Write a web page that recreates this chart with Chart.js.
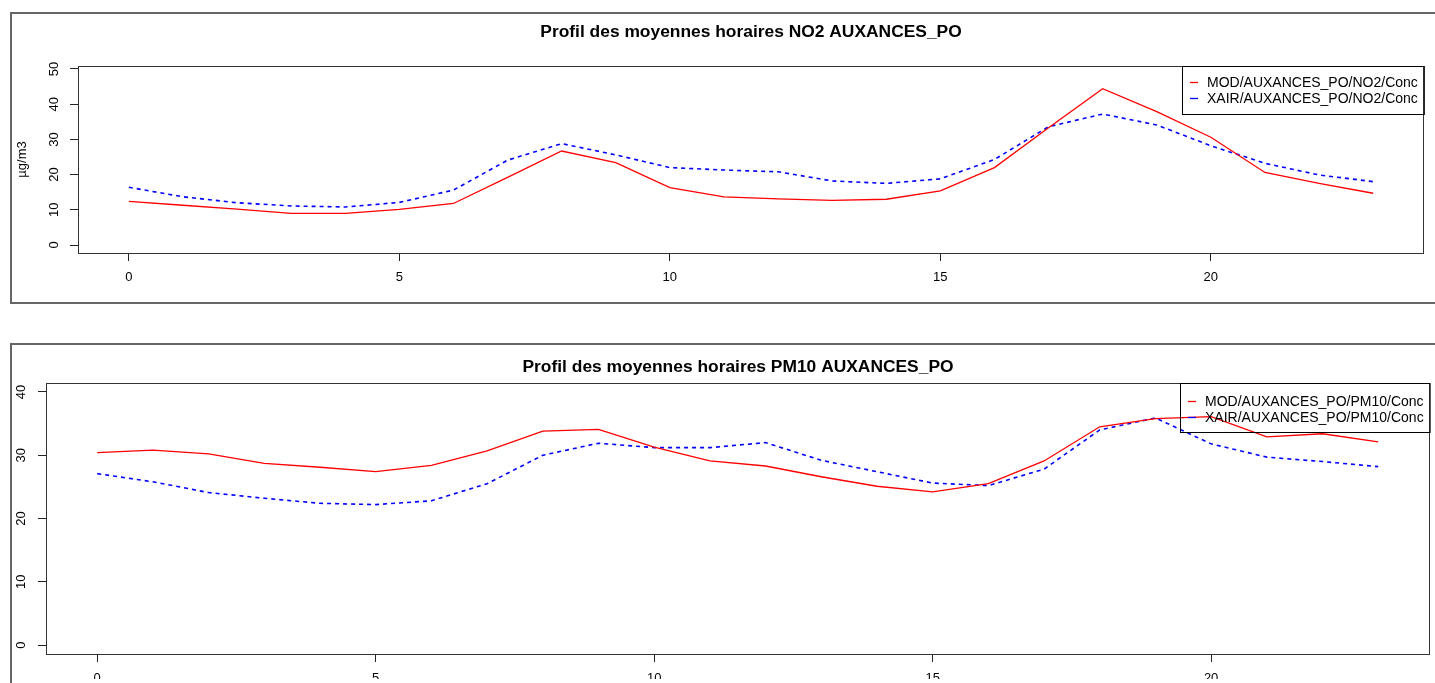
<!DOCTYPE html>
<html>
<head>
<meta charset="utf-8">
<script src="https://cdn.jsdelivr.net/npm/chart.js@4.4.1/dist/chart.umd.min.js"></script>
<style>
  html, body { margin: 0; padding: 0; background: #fff; }
  body { width: 1435px; height: 683px; position: relative; overflow: hidden; }
  .frame { position: absolute; border: 2px solid #666; box-sizing: border-box; }
  canvas { position: absolute; left: 0; }
</style>
</head>
<body>
<div class="frame" style="left:10px; top:12px; width:1440px; height:292px;"></div>
<div class="frame" style="left:10px; top:343px; width:1440px; height:400px;"></div>
<canvas id="c1" width="1435" height="330" style="top:0px;"></canvas>
<canvas id="c2" width="1435" height="353" style="top:330px;"></canvas>
<script>
// ---- data ----
const hours = [0,1,2,3,4,5,6,7,8,9,10,11,12,13,14,15,16,17,18,19,20,21,22,23];
const xTicks = [0, 5, 10, 15, 20];

const no2Title = "Profil des moyennes horaires NO2 AUXANCES_PO";
const no2Labels = ["MOD/AUXANCES_PO/NO2/Conc", "XAIR/AUXANCES_PO/NO2/Conc"];
const no2Ticks = [0, 10, 20, 30, 40, 50];
const no2Mod  = [12.4, 11.3, 10.2, 9.0, 9.0, 10.1, 11.8, 19.2, 26.7, 23.4, 16.3, 13.7, 13.1, 12.7, 13.0, 15.4, 22.0, 33.3, 44.4, 37.9, 30.6, 20.6, 17.5, 14.7];
const no2Xair = [16.4, 13.7, 12.0, 11.1, 10.8, 12.1, 15.6, 24.1, 28.8, 25.6, 22.0, 21.3, 20.8, 18.2, 17.5, 18.8, 24.3, 33.6, 37.2, 34.1, 28.2, 23.2, 19.9, 18.0];

const pm10Title = "Profil des moyennes horaires PM10 AUXANCES_PO";
const pm10Labels = ["MOD/AUXANCES_PO/PM10/Conc", "XAIR/AUXANCES_PO/PM10/Conc"];
const pm10Ticks = [0, 10, 20, 30, 40];
const pm10Mod  = [30.4, 30.8, 30.2, 28.7, 28.1, 27.4, 28.4, 30.7, 33.8, 34.1, 31.3, 29.1, 28.3, 26.6, 25.1, 24.2, 25.5, 29.1, 34.5, 35.8, 36.1, 32.9, 33.4, 32.1];
const pm10Xair = [27.1, 25.8, 24.1, 23.2, 22.4, 22.2, 22.8, 25.5, 30.0, 31.9, 31.2, 31.2, 32.0, 29.2, 27.4, 25.6, 25.2, 27.8, 34.0, 35.9, 31.8, 29.7, 29.0, 28.2];

const FONT = "'Liberation Sans', Arial, sans-serif";

const panelPlugin = {
  id: 'rpanel',
  afterDraw(chart, args, opts) {
    const ctx = chart.ctx;
    const a = chart.chartArea;
    ctx.save();
    // plot box
    ctx.strokeStyle = '#333';
    ctx.lineWidth = 1;
    ctx.strokeRect(Math.round(a.left) + 0.5, Math.round(a.top) + 0.5,
                   Math.round(a.right - a.left) - 1, Math.round(a.bottom - a.top));
    // title
    ctx.fillStyle = '#000';
    ctx.font = 'bold ' + opts.titleSize + 'px ' + FONT;
    ctx.textAlign = 'center';
    ctx.textBaseline = 'middle';
    ctx.fillText(opts.title, (a.left + a.right) / 2, opts.titleY);
    // legend (top right, transparent)
    ctx.font = '14px ' + FONT;
    const ds = chart.data.datasets;
    let tw = 0;
    ds.forEach(d => { tw = Math.max(tw, ctx.measureText(d.label).width); });
    const bw = tw + 31, bh = opts.legendH;
    const bx = Math.round(a.right - bw), by = Math.round(a.top);
    ctx.strokeStyle = '#000';
    ctx.strokeRect(bx + 0.5, by + 0.5, bw, bh);
    ctx.textAlign = 'left';
    ds.forEach((d, i) => {
      const y = by + opts.legendY0 + i * 16;
      ctx.strokeStyle = d.borderColor;
      ctx.lineWidth = 1.3;
      ctx.setLineDash([]);
      ctx.beginPath();
      ctx.moveTo(bx + 8, y + 0.5);
      ctx.lineTo(bx + 16, y + 0.5);
      ctx.stroke();
      ctx.fillStyle = '#000';
      ctx.fillText(d.label, bx + 25, y + 1);
    });
    ctx.restore();
  }
};

function makeChart(id, cfg) {
  const mk = (arr, label, color, dash, w) => ({
    label: label,
    data: hours.map((h, i) => ({ x: h, y: arr[i] })),
    borderColor: color,
    borderWidth: w,
    borderDash: dash,
    pointRadius: 0,
    fill: false,
    tension: 0
  });
  return new Chart(document.getElementById(id), {
    type: 'line',
    data: {
      datasets: [
        mk(cfg.mod, cfg.labels[0], '#ff0000', [], 1.3),
        mk(cfg.xair, cfg.labels[1], '#0000ff', [4, 4], 1.6)
      ]
    },
    plugins: [panelPlugin],
    options: {
      responsive: false,
      animation: false,
      devicePixelRatio: 1,
      layout: { padding: cfg.padding },
      plugins: {
        legend: { display: false },
        title: { display: false },
        tooltip: { enabled: false },
        rpanel: { title: cfg.title, titleY: cfg.titleY, titleSize: cfg.titleSize, legendH: cfg.legendH, legendY0: cfg.legendY0 }
      },
      scales: {
        x: {
          type: 'linear',
          min: cfg.xmin, max: cfg.xmax,
          afterBuildTicks: s => { s.ticks = xTicks.map(v => ({ value: v })); },
          afterFit: s => { s.height = cfg.xAxisH; s.paddingLeft = 0; s.paddingRight = 0; },
          grid: { display: true, drawOnChartArea: false, drawTicks: true, tickLength: 8, tickColor: '#222', tickWidth: 1 },
          border: { display: false },
          ticks: { font: { family: FONT, size: 13 }, color: '#000', padding: 9, maxRotation: 0, minRotation: 0, autoSkip: false }
        },
        y: {
          type: 'linear',
          min: cfg.ymin, max: cfg.ymax,
          afterBuildTicks: s => { s.ticks = cfg.yTicks.map(v => ({ value: v })); },
          afterFit: s => { s.width = cfg.yAxisW; s.paddingTop = 0; s.paddingBottom = 0; },
          grid: { display: true, drawOnChartArea: false, drawTicks: true, tickLength: 8, tickColor: '#222', tickWidth: 1 },
          border: { display: false },
          title: cfg.yTitle ? { display: true, text: cfg.yTitle, font: { family: FONT, size: 13 }, color: '#000', padding: { top: 4, bottom: 4 } } : { display: false },
          ticks: { font: { family: FONT, size: 13 }, color: '#000', padding: cfg.yPad, minRotation: 90, maxRotation: 90, crossAlign: 'center', autoSkip: false }
        }
      }
    }
  });
}

makeChart('c1', {
  mod: no2Mod, xair: no2Xair, labels: no2Labels, title: no2Title, titleY: 32, titleSize: 17.4,
  yTicks: no2Ticks, ymin: -2.27, ymax: 50.85, xmin: -0.94, xmax: 23.94,
  padding: { left: 11, right: 11, top: 66, bottom: 37 },
  yAxisW: 67, xAxisH: 40, yPad: 8, yTitle: 'µg/m3',
  legendH: 48, legendY0: 16
});

makeChart('c2', {
  mod: pm10Mod, xair: pm10Xair, labels: pm10Labels, title: pm10Title, titleY: 37, titleSize: 17.4,
  yTicks: pm10Ticks, ymin: -1.42, ymax: 41.42, xmin: -0.92, xmax: 23.93,
  padding: { left: 6, right: 5, top: 53, bottom: 4 },
  yAxisW: 40, xAxisH: 25, yPad: 9, yTitle: null,
  legendH: 49, legendY0: 18
});
</script>
</body>
</html>
